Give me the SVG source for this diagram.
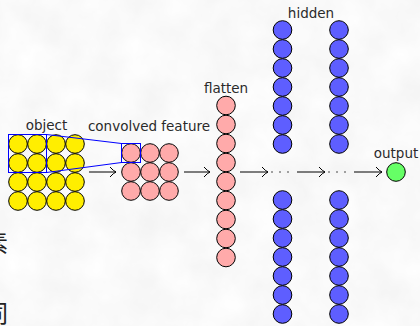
<svg xmlns="http://www.w3.org/2000/svg" xmlns:xlink="http://www.w3.org/1999/xlink" width="420" height="326" viewBox="0 0 420 326">
<defs>
<filter id="cloud" x="0" y="0" width="100%" height="100%">
<feTurbulence type="fractalNoise" baseFrequency="0.025" numOctaves="4" seed="3"/>
<feColorMatrix type="matrix" values="0.12 0 0 0 0.89  0.12 0 0 0 0.89  0.12 0 0 0 0.89  0 0 0 0 1"/>
</filter>
<marker id="arr" viewBox="-7 -6 8 12" refX="0" refY="0" markerWidth="8" markerHeight="12" markerUnits="userSpaceOnUse" orient="auto">
<path d="M -6 -5 Q -2.5 -1 0 0 Q -2.5 1 -6 5" fill="none" stroke="#000" stroke-width="1"/>
</marker>
<circle id="y" r="9.3" class="yel"/>
<circle id="p" r="9.3" class="pink"/>
<circle id="b" r="9.3" class="blue"/>
</defs>
<style>
.yel{fill:#ffee00;stroke:#000;stroke-width:1}
.pink{fill:#ffaaaa;stroke:#000;stroke-width:1}
.blue{fill:#5e5eff;stroke:#000;stroke-width:1}
.green{fill:#66ff66;stroke:#000;stroke-width:1}
.lbl{font-family:"DejaVu Sans",sans-serif;font-size:13.5px;fill:#2a2a2a;text-anchor:middle}
.cjk{font-family:"Noto Sans CJK JP",sans-serif;font-size:24px;fill:#222}
.arrow{stroke:#000;stroke-width:1;fill:none;marker-end:url(#arr)}
.rf{fill:none;stroke:#0000ff;stroke-width:1}
</style>
<rect width="420" height="326" fill="#f4f4f4"/>
<rect width="420" height="326" filter="url(#cloud)"/>
<text class="cjk" x="-16" y="252">素</text>
<text class="cjk" x="-16" y="322">同</text>

<g id="object">
<text class="lbl" x="46.5" y="130">object</text>
<use href="#y" x="18" y="144"/><use href="#y" x="37" y="144"/><use href="#y" x="56" y="144"/><use href="#y" x="75" y="144"/>
<use href="#y" x="18" y="163"/><use href="#y" x="37" y="163"/><use href="#y" x="56" y="163"/><use href="#y" x="75" y="163"/>
<use href="#y" x="18" y="182"/><use href="#y" x="37" y="182"/><use href="#y" x="56" y="182"/><use href="#y" x="75" y="182"/>
<use href="#y" x="18" y="201"/><use href="#y" x="37" y="201"/><use href="#y" x="56" y="201"/><use href="#y" x="75" y="201"/>
</g>

<g id="convolved">
<text class="lbl" x="149" y="130.5">convolved feature</text>
<use href="#p" x="131" y="153"/><use href="#p" x="150" y="153"/><use href="#p" x="169" y="153"/>
<use href="#p" x="131" y="172"/><use href="#p" x="150" y="172"/><use href="#p" x="169" y="172"/>
<use href="#p" x="131" y="191"/><use href="#p" x="150" y="191"/><use href="#p" x="169" y="191"/>
</g>

<g id="flatten">
<text class="lbl" x="226" y="93">flatten</text>
<use href="#p" x="226" y="105.5"/><use href="#p" x="226" y="124.5"/><use href="#p" x="226" y="143.5"/>
<use href="#p" x="226" y="162.5"/><use href="#p" x="226" y="181.5"/><use href="#p" x="226" y="200.5"/>
<use href="#p" x="226" y="219.5"/><use href="#p" x="226" y="238.5"/><use href="#p" x="226" y="257.5"/>
</g>

<g id="hidden">
<text class="lbl" x="311" y="17.5">hidden</text>
<g id="hidden1">
<use href="#b" x="282.5" y="30"/><use href="#b" x="282.5" y="49"/><use href="#b" x="282.5" y="68"/><use href="#b" x="282.5" y="87"/>
<use href="#b" x="282.5" y="106"/><use href="#b" x="282.5" y="125"/><use href="#b" x="282.5" y="144"/>
<use href="#b" x="282.5" y="200"/><use href="#b" x="282.5" y="219"/><use href="#b" x="282.5" y="238"/><use href="#b" x="282.5" y="257"/>
<use href="#b" x="282.5" y="276"/><use href="#b" x="282.5" y="295"/><use href="#b" x="282.5" y="314"/>
</g>
<g id="hidden2">
<use href="#b" x="339" y="30"/><use href="#b" x="339" y="49"/><use href="#b" x="339" y="68"/><use href="#b" x="339" y="87"/>
<use href="#b" x="339" y="106"/><use href="#b" x="339" y="125"/><use href="#b" x="339" y="144"/>
<use href="#b" x="339" y="200"/><use href="#b" x="339" y="219"/><use href="#b" x="339" y="238"/><use href="#b" x="339" y="257"/>
<use href="#b" x="339" y="276"/><use href="#b" x="339" y="295"/><use href="#b" x="339" y="314"/>
</g>
</g>

<g id="output">
<text class="lbl" x="396" y="158">output</text>
<circle class="green" cx="396" cy="172" r="9.3"/>
</g>

<g id="receptive-field">
<rect class="rf" x="8.5" y="134.5" width="38" height="38"/>
<rect class="rf" x="121.5" y="143.5" width="19" height="19"/>
<line class="rf" x1="46.5" y1="134.5" x2="121.5" y2="143.5"/>
<line class="rf" x1="46.5" y1="172.5" x2="121.5" y2="162.5"/>
</g>

<g id="connectors">
<line class="arrow" x1="89" y1="172" x2="116" y2="172"/>
<line class="arrow" x1="184" y1="172" x2="210" y2="172"/>
<line class="arrow" x1="240" y1="172" x2="268" y2="172"/>
<line class="arrow" x1="297" y1="172" x2="325" y2="172"/>
<line class="arrow" x1="354" y1="172" x2="382" y2="172"/>
<g fill="#333">
<circle cx="272" cy="172" r="0.8"/><circle cx="280" cy="172" r="0.8"/><circle cx="288" cy="172" r="0.8"/>
<circle cx="329" cy="172" r="0.8"/><circle cx="337" cy="172" r="0.8"/><circle cx="345" cy="172" r="0.8"/>
</g>
</g>
</svg>
